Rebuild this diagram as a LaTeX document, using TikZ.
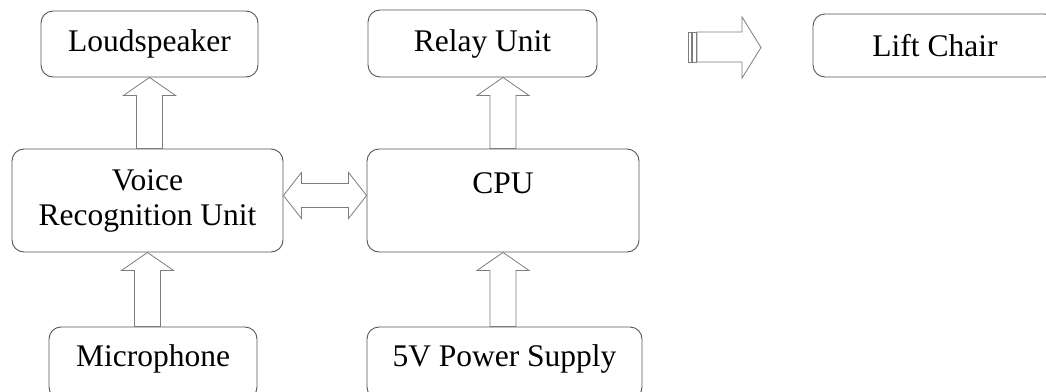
\documentclass[tikz,border=0pt]{standalone}
\usepackage{fontspec}
\setmainfont{Liberation Serif}
\usepackage{tikz}
\usetikzlibrary{calc}
\definecolor{boxGray}{RGB}{85, 85, 85}
\definecolor{arrowGray}{RGB}{125, 125, 125}

% hollow block arrow: tail, tip, shaft half width, head half width
\newcommand{\blockarrow}[4]{%
  \draw[blockarr] ($(#1)!#3!90:(#2)$) -- ($(#2)!18pt!(#1)!#3!90:(#2)$)
    -- ($(#2)!18pt!(#1)!#4!90:(#2)$) -- (#2)
    -- ($(#2)!18pt!(#1)!#4!-90:(#2)$) -- ($(#2)!18pt!(#1)!#3!-90:(#2)$)
    -- ($(#1)!#3!-90:(#2)$) -- cycle;}
% same, with a head at both ends
\newcommand{\dblblockarrow}[4]{%
  \draw[blockarr] (#1) -- ($(#1)!18pt!(#2)!#4!90:(#2)$) -- ($(#1)!18pt!(#2)!#3!90:(#2)$)
    -- ($(#2)!18pt!(#1)!#3!90:(#2)$) -- ($(#2)!18pt!(#1)!#4!90:(#2)$) -- (#2)
    -- ($(#2)!18pt!(#1)!#4!-90:(#2)$) -- ($(#2)!18pt!(#1)!#3!-90:(#2)$)
    -- ($(#1)!18pt!(#2)!#3!-90:(#2)$) -- ($(#1)!18pt!(#2)!#4!-90:(#2)$) -- cycle;}

\begin{document}
\begin{tikzpicture}[
    x=1pt, y=-1pt,
    every node/.style={font=\fontsize{31.5}{35}\selectfont},
    box/.style={draw=boxGray, rounded corners=12pt, line width=0.9pt, inner sep=0pt, align=center},
    blockarr/.style={draw=arrowGray, fill=white, line width=0.8pt, line join=miter},
]
\useasboundingbox (0,0) rectangle (1046,391);
\node[box, minimum width=217, minimum height=66] (ls) at (149.5, 44) {Loudspeaker};
\node[box, minimum width=229, minimum height=67] (relay) at (482.5, 43.5) {Relay Unit};
\node[box, minimum width=244, minimum height=63] (lift) at (935, 45.5) {Lift Chair};
\node[box, minimum width=271, minimum height=103] (vru) at (147.5, 200.5) {Voice\\Recognition Unit};
\node[box, minimum width=272, minimum height=103] (cpu) at (503, 200.5) {CPU\\\phantom{Unit}};
% bottom row runs off the lower edge
\node[box, minimum width=208, minimum height=72, text depth=14pt] (mic) at (153, 363) {Microphone};
\node[box, minimum width=275, minimum height=72, text depth=14pt] (psu) at (504.5, 363) {5V Power Supply};
\blockarrow{vru.north -| ls.south}{ls.south}{13pt}{26pt}
\blockarrow{mic.north -| vru.south}{vru.south}{13pt}{26pt}
\blockarrow{psu.north -| cpu.south}{cpu.south}{13pt}{26pt}
\blockarrow{cpu.north}{cpu.north |- relay.south}{13pt}{26pt}
\dblblockarrow{[yshift=5pt]vru.east}{[yshift=5pt]cpu.west}{12pt}{23pt}
% striped arrow towards the lift chair
\draw[blockarr] (688,32) rectangle (691,62);
\draw[blockarr] (692.5,32) rectangle (696,62);
\draw[blockarr] (697,32) -- (742,32) -- (742,17) -- (761,47.5) -- (742,78) -- (742,62) -- (697,62) -- cycle;
\end{tikzpicture}
\end{document}
